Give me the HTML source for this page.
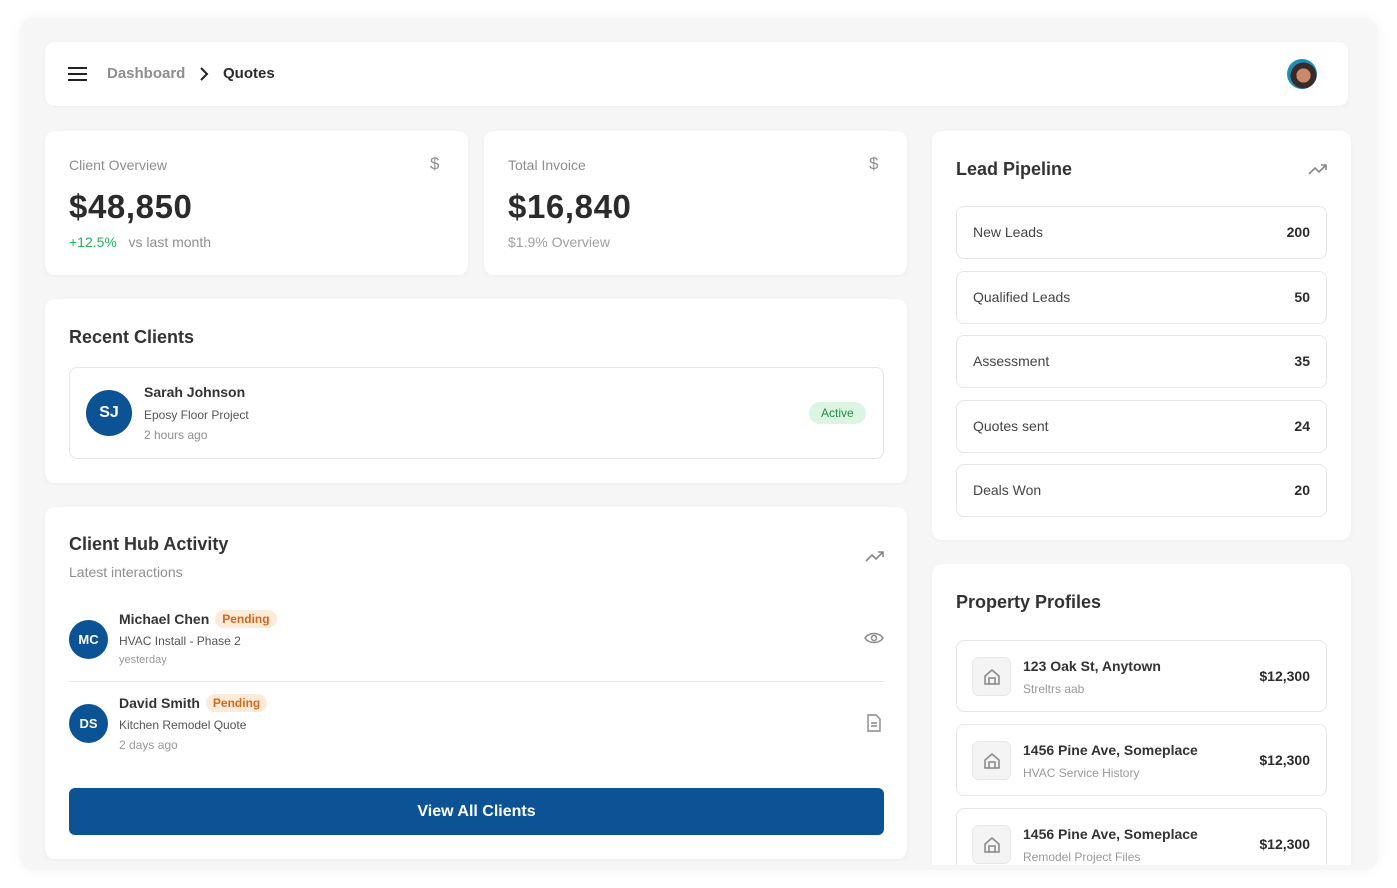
<!DOCTYPE html>
<html><head><style>
*{box-sizing:border-box;margin:0;padding:0}
body{width:1397px;height:888px;background:#fff;font-family:"Liberation Sans",sans-serif;color:#2b2b2b;position:relative;overflow:hidden}
.wrap{position:absolute;left:20px;top:18px;width:1358px;height:852px;background:#f6f6f6;border-radius:14px;box-shadow:0 0 14px rgba(0,0,0,.05);overflow:hidden}
.c{position:absolute;background:#fff;border-radius:10px;box-shadow:0 1px 4px rgba(0,0,0,.04)}
.a{position:absolute}
.muted{color:#8e8e8e}
.item{position:absolute;left:24px;width:371px;border:1px solid #e6e6e6;border-radius:8px;background:#fff}
.av{position:absolute;border-radius:50%;background:#0b5394;color:#fff;font-weight:bold;display:flex;align-items:center;justify-content:center}
.pend{display:inline-block;background:#fdebd9;color:#d2691e;font-size:12px;border-radius:10px;padding:2px 7px;margin-left:6px;vertical-align:1px}
.big{font-size:33px;font-weight:bold;letter-spacing:0.6px}
</style></head><body>
<div class="wrap">
<div class="c" style="left:25px;top:24px;width:1303px;height:64px">
  <div class="a" style="left:23px;top:25px;width:19px;height:2px;background:#222;box-shadow:0 6px 0 #222,0 12px 0 #222"></div>
  <div class="a muted" style="left:62px;top:23px;font-size:15px;font-weight:bold;color:#8e8e8e">Dashboard</div>
  <svg class="a" style="left:153px;top:24px" width="12" height="16"><path d="M3 2l6 6-6 6" fill="none" stroke="#222" stroke-width="2"/></svg>
  <div class="a" style="left:178px;top:23px;font-size:15px;font-weight:bold">Quotes</div>
  <div class="a" style="left:1242px;top:17px;width:30px;height:30px;border-radius:50%;background:radial-gradient(circle at 55% 55%,#c98a6a 0 30%,#3a2a2a 31% 55%,#1e8fb0 56%)"></div>
</div>
<div class="c" style="left:25px;top:113px;width:423px;height:144px">
  <div class="a muted" style="left:24px;top:26px;font-size:14px">Client Overview</div>
  <div class="a muted" style="left:385px;top:23px;font-size:17px">$</div>
  <div class="a big" style="left:24px;top:57px">$48,850</div>
  <div class="a" style="left:24px;top:103px;font-size:14px"><span style="color:#22b35a">+12.5%</span>&nbsp;&nbsp;&nbsp;<span class="muted">vs last month</span></div>
</div>
<div class="c" style="left:464px;top:113px;width:423px;height:144px">
  <div class="a muted" style="left:24px;top:26px;font-size:14px">Total Invoice</div>
  <div class="a muted" style="left:385px;top:23px;font-size:17px">$</div>
  <div class="a big" style="left:24px;top:57px">$16,840</div>
  <div class="a muted" style="left:24px;top:103px;font-size:14px;color:#a0a0a0">$1.9% Overview</div>
</div>
<div class="c" style="left:25px;top:281px;width:862px;height:184px">
  <div class="a" style="left:24px;top:28px;font-size:18px;font-weight:bold;color:#333">Recent Clients</div>
  <div class="a" style="left:24px;top:68px;width:815px;height:92px;border:1px solid #e6e6e6;border-radius:8px">
    <div class="av" style="left:16px;top:22px;width:46px;height:46px;font-size:16px">SJ</div>
    <div class="a" style="left:74px;top:16px;font-size:14px;font-weight:bold;color:#333">Sarah Johnson</div>
    <div class="a" style="left:74px;top:40px;font-size:12px;color:#555">Eposy Floor Project</div>
    <div class="a muted" style="left:74px;top:60px;font-size:12px">2 hours ago</div>
    <div class="a" style="left:739px;top:34px;background:#dcf5e3;color:#1f8f45;font-size:12px;padding:4px 12px;border-radius:12px">Active</div>
  </div>
</div>
<div class="c" style="left:25px;top:489px;width:862px;height:352px">
  <div class="a" style="left:24px;top:27px;font-size:18px;font-weight:bold;color:#333">Client Hub Activity</div>
  <div class="a muted" style="left:24px;top:57px;font-size:14px">Latest interactions</div>
  <svg class="a" style="left:820px;top:42px" width="20" height="14"><path d="M1 12l6-6 4 4 7-7M13 3h5v5" fill="none" stroke="#888" stroke-width="1.6"/></svg>
  <div class="av" style="left:24px;top:113px;width:39px;height:39px;font-size:13px">MC</div>
  <div class="a" style="left:74px;top:103px;font-size:14px;font-weight:bold;color:#333">Michael Chen<span class="pend">Pending</span></div>
  <div class="a" style="left:74px;top:127px;font-size:12px;color:#555">HVAC Install - Phase 2</div>
  <div class="a muted" style="left:74px;top:147px;font-size:11px;color:#999">yesterday</div>
  <svg class="a" style="left:819px;top:124px" width="20" height="14"><path d="M1 7C5 1 15 1 19 7C15 13 5 13 1 7Z" fill="none" stroke="#888" stroke-width="1.5"/><circle cx="10" cy="7" r="2.5" fill="none" stroke="#888" stroke-width="1.5"/></svg>
  <div class="a" style="left:24px;top:174px;width:815px;height:1px;background:#e8e8e8"></div>
  <div class="av" style="left:24px;top:197px;width:39px;height:39px;font-size:13px">DS</div>
  <div class="a" style="left:74px;top:187px;font-size:14px;font-weight:bold;color:#333">David Smith<span class="pend">Pending</span></div>
  <div class="a" style="left:74px;top:211px;font-size:12px;color:#555">Kitchen Remodel Quote</div>
  <div class="a muted" style="left:74px;top:231px;font-size:12px;color:#999">2 days ago</div>
  <svg class="a" style="left:821px;top:207px" width="16" height="18"><path d="M2 1h8l4 4v12H2Z M5 9h6M5 12h6" fill="none" stroke="#888" stroke-width="1.4"/></svg>
  <div class="a" style="left:24px;top:281px;width:815px;height:47px;background:#0b5394;border-radius:6px;color:#fff;font-size:16px;font-weight:bold;display:flex;align-items:center;justify-content:center">View All Clients</div>
</div>
<div class="c" style="left:912px;top:113px;width:419px;height:409px">
  <div class="a" style="left:24px;top:28px;font-size:18px;font-weight:bold;color:#333">Lead Pipeline</div>
  <svg class="a" style="left:376px;top:31px" width="20" height="14"><path d="M1 12l6-6 4 4 7-7M13 3h5v5" fill="none" stroke="#888" stroke-width="1.6"/></svg>
  <div class="item" style="top:75px;height:53px"><span class="a" style="left:16px;top:17px;font-size:14px;color:#444">New Leads</span><span class="a" style="right:16px;top:17px;font-size:14px;font-weight:bold">200</span></div>
  <div class="item" style="top:140px;height:53px"><span class="a" style="left:16px;top:17px;font-size:14px;color:#444">Qualified Leads</span><span class="a" style="right:16px;top:17px;font-size:14px;font-weight:bold">50</span></div>
  <div class="item" style="top:204px;height:53px"><span class="a" style="left:16px;top:17px;font-size:14px;color:#444">Assessment</span><span class="a" style="right:16px;top:17px;font-size:14px;font-weight:bold">35</span></div>
  <div class="item" style="top:269px;height:53px"><span class="a" style="left:16px;top:17px;font-size:14px;color:#444">Quotes sent</span><span class="a" style="right:16px;top:17px;font-size:14px;font-weight:bold">24</span></div>
  <div class="item" style="top:333px;height:53px"><span class="a" style="left:16px;top:17px;font-size:14px;color:#444">Deals Won</span><span class="a" style="right:16px;top:17px;font-size:14px;font-weight:bold">20</span></div>
</div>
<div class="c" style="left:912px;top:546px;width:419px;height:330px;border-radius:10px 10px 0 0">
  <div class="a" style="left:24px;top:28px;font-size:18px;font-weight:bold;color:#333">Property Profiles</div>
  <div class="item" style="top:76px;height:72px">
    <div class="a" style="left:15px;top:16px;width:39px;height:39px;background:#f4f4f4;border:1px solid #e8e8e8;border-radius:7px"></div>
    <svg class="a" style="left:26px;top:27px" width="18" height="18"><path d="M2 8L9 2l7 6v8H2Z M6 16v-6h6v6" fill="none" stroke="#888" stroke-width="1.5"/></svg>
    <span class="a" style="left:66px;top:17px;font-size:14px;font-weight:bold;color:#333">123 Oak St, Anytown</span>
    <span class="a" style="left:66px;top:41px;font-size:12px;color:#999">Streltrs aab</span>
    <span class="a" style="right:16px;top:27px;font-size:14px;font-weight:bold">$12,300</span>
  </div>
  <div class="item" style="top:160px;height:72px">
    <div class="a" style="left:15px;top:16px;width:39px;height:39px;background:#f4f4f4;border:1px solid #e8e8e8;border-radius:7px"></div>
    <svg class="a" style="left:26px;top:27px" width="18" height="18"><path d="M2 8L9 2l7 6v8H2Z M6 16v-6h6v6" fill="none" stroke="#888" stroke-width="1.5"/></svg>
    <span class="a" style="left:66px;top:17px;font-size:14px;font-weight:bold;color:#333">1456 Pine Ave, Someplace</span>
    <span class="a" style="left:66px;top:41px;font-size:12px;color:#999">HVAC Service History</span>
    <span class="a" style="right:16px;top:27px;font-size:14px;font-weight:bold">$12,300</span>
  </div>
  <div class="item" style="top:244px;height:72px">
    <div class="a" style="left:15px;top:16px;width:39px;height:39px;background:#f4f4f4;border:1px solid #e8e8e8;border-radius:7px"></div>
    <svg class="a" style="left:26px;top:27px" width="18" height="18"><path d="M2 8L9 2l7 6v8H2Z M6 16v-6h6v6" fill="none" stroke="#888" stroke-width="1.5"/></svg>
    <span class="a" style="left:66px;top:17px;font-size:14px;font-weight:bold;color:#333">1456 Pine Ave, Someplace</span>
    <span class="a" style="left:66px;top:41px;font-size:12px;color:#999">Remodel Project Files</span>
    <span class="a" style="right:16px;top:27px;font-size:14px;font-weight:bold">$12,300</span>
  </div>
</div>
<div class="a" style="left:900px;top:847px;width:458px;height:5px;background:#f6f6f6"></div>
</div>
</body></html>
